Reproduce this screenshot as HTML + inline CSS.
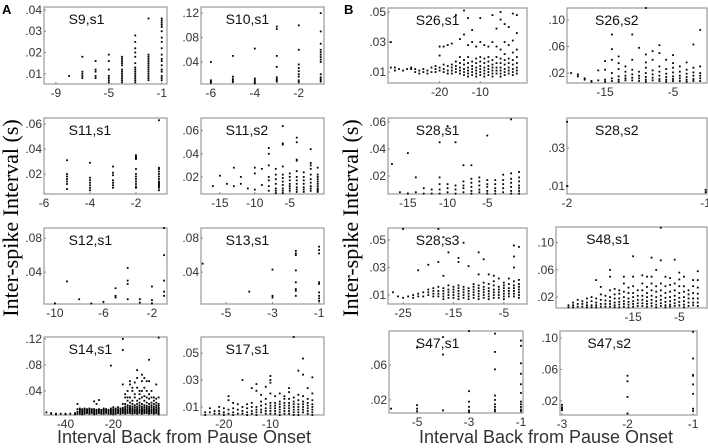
<!DOCTYPE html>
<html><head><meta charset="utf-8">
<style>
body{margin:0;background:#fff;width:708px;height:448px;overflow:hidden;font-family:"Liberation Sans",sans-serif}
svg{display:block}
</style></head>
<body>
<svg id="fig" width="708" height="448" viewBox="0 0 708 448" xmlns="http://www.w3.org/2000/svg">
<text x="2" y="14" font-size="13" font-weight="bold">A</text>
<text x="344" y="14" font-size="13" font-weight="bold">B</text>
<text transform="translate(18,218) rotate(-90)" text-anchor="middle" font-family="Liberation Serif,serif" font-size="22">Inter-spike Interval (s)</text>
<text transform="translate(358,218) rotate(-90)" text-anchor="middle" font-family="Liberation Serif,serif" font-size="22">Inter-spike Interval (s)</text>
<text x="184" y="443" text-anchor="middle" font-size="18" fill="#333">Interval Back from Pause Onset</text>
<text x="546" y="443" text-anchor="middle" font-size="18" fill="#333">Interval Back from Pause Onset</text>
</svg>
<script>
// ---- data: columns of [x, [isi values]] ----
const s9s1 = [[-8,[.009]],[-7,[.018,.011,.010,.009,.008]],[-6,[.016,.012,.011,.009,.008]],[-5,[.019,.016,.012,.009,.008,.007,.006]],[-4,[.018,.017,.016,.015,.014,.012,.011,.010,.009,.008,.007,.006]],[-3,[.028,.025,.022,.020,.018,.015,.013,.012,.011,.010,.009,.008,.007,.006]],[-2,[.036,.019,.018,.017,.016,.015,.014,.013,.012,.011,.010,.009,.008,.007]],[-1,[.036,.035,.034,.033,.032,.030,.027,.025,.022,.019,.017,.016,.014,.012,.011,.009,.008,.007]]];
const s10s1 = [[-6,[.04,.01,.008,.006]],[-5,[.05,.016,.012,.009,.007]],[-4,[.062,.013,.01,.007,.005]],[-3,[.098,.094,.05,.032,.015,.012,.01,.008]],[-2,[.1,.06,.036,.03,.025,.02,.016,.01,.007]],[-1,[.12,.09,.07,.06,.056,.052,.048,.044,.04,.02,.015,.012,.01,.008]]];
const s11s1 = [[-5,[.031,.020,.018,.016,.014,.012,.008]],[-4,[.029,.017,.015,.013,.011,.009,.007]],[-3,[.026,.021,.019,.015,.013,.011,.009]],[-2,[.035,.034,.033,.032,.024,.02,.018,.016,.014,.012,.01,.009]],[-1,[.063,.025,.024,.022,.02,.018,.016,.014,.013,.012,.011,.01,.009,.007]]];
const s11s2 = [[-16,[.012]],[-15,[.021]],[-14,[.014]],[-13,[.028,.012]],[-12,[.02,.014]],[-11,[.01]],[-10,[.028,.023,.009]],[-9,[.027,.013]],[-8,[.045,.04,.03,.02,.017,.012,.008]],[-7,[.027,.022,.018,.014,.01,.008,.006]],[-6,[.064,.049,.048,.029,.022,.019,.016,.013,.01,.008,.006]],[-5,[.023,.02,.017,.014,.012,.01,.008]],[-4,[.054,.05,.035,.034,.025,.02,.017,.014,.011,.009,.007]],[-3,[.024,.02,.017,.014,.011,.009,.007]],[-2,[.044,.032,.03,.027,.022,.018,.015,.012,.01,.008]],[-1,[.028,.022,.02,.018,.016,.014,.012,.01,.009,.008,.007]]];
const s12s1 = [[-10,[.003]],[-9,[.029]],[-8,[.008]],[-7,[.082,.003]],[-6,[.005]],[-5,[.021,.012,.01]],[-4,[.045,.03,.026,.008]],[-3,[.008,.004]],[-2,[.023,.007,.003]],[-1,[.092,.06,.03,.017,.012]]];
const s13s1 = [[-6,[.05]],[-4,[.017]],[-3,[.043,.012,.01]],[-2,[.065,.062,.06,.042,.028,.02,.018,.012]],[-1,[.07,.066,.062,.028,.026,.016,.012,.009,.006]]];
const s14s1 = [[-48,[.007]],[-46,[.006,.005]],[-44,[.005,.004]],[-42,[.005]],[-40,[.005,.004]],[-38,[.005]],[-36,[.006,.004]],[-35,[.02,.012,.008,.005]],[-34,[.013,.011,.009,.007,.005]],[-33,[.012,.01,.008,.006,.004]],[-32,[.013,.011,.009,.007,.005]],[-31,[.012,.01,.008,.006]],[-30,[.013,.011,.009,.007,.005]],[-29,[.012,.01,.008,.006]],[-28,[.024,.012,.01,.008,.006,.004]],[-27,[.02,.011,.009,.007,.005]],[-26,[.026,.012,.01,.008,.006]],[-25,[.011,.009,.007,.005]],[-24,[.013,.011,.009,.007,.005]],[-23,[.012,.01,.008,.006]],[-22,[.011,.009,.007,.005]],[-21,[.079,.013,.011,.009,.007,.005]],[-20,[.015,.012,.01,.008,.006,.004]],[-19,[.013,.011,.009,.007,.005]],[-18,[.015,.012,.01,.008,.006]],[-17,[.013,.011,.009,.007,.005]],[-16,[.12,.103,.05,.02,.014,.012,.01,.008,.006]],[-15,[.035,.03,.02,.016,.013,.011,.009,.007,.005]],[-14,[.04,.03,.025,.018,.015,.012,.01,.008,.006]],[-13,[.055,.05,.03,.022,.017,.014,.012,.01,.008,.006]],[-12,[.045,.04,.025,.02,.016,.013,.011,.009,.007,.005]],[-11,[.053,.035,.03,.018,.015,.012,.01,.008,.006]],[-10,[.072,.06,.045,.025,.02,.016,.013,.011,.009,.007,.005]],[-9,[.04,.035,.028,.022,.018,.015,.012,.01,.008,.006]],[-8,[.065,.055,.04,.03,.02,.016,.013,.011,.009,.007,.005]],[-7,[.06,.045,.032,.025,.018,.015,.012,.01,.008,.006]],[-6,[.055,.04,.03,.022,.017,.014,.012,.01,.008,.006]],[-5,[.088,.055,.035,.028,.02,.016,.013,.011,.009,.007,.005]],[-4,[.04,.03,.022,.018,.015,.012,.01,.008,.006]],[-3,[.03,.025,.02,.016,.013,.011,.009,.007,.005]],[-2,[.05,.028,.022,.018,.015,.012,.01,.008,.006]],[-1,[.122,.03,.02,.017,.014,.012,.01,.008,.006,.004]]];
const s17s1 = [[-24,[.006,.004]],[-23,[.009,.006]],[-22,[.007,.005]],[-21,[.01,.007,.005]],[-20,[.009,.006,.004]],[-19,[.018,.015,.008,.005]],[-18,[.013,.009,.006,.004]],[-17,[.012,.008,.005]],[-16,[.03,.01,.007,.005]],[-15,[.012,.009,.006,.004]],[-14,[.024,.013,.01,.007,.005]],[-13,[.027,.022,.01,.008,.006,.004]],[-12,[.019,.014,.011,.008,.006]],[-11,[.025,.016,.012,.009,.007,.005]],[-10,[.033,.03,.028,.02,.013,.011,.009,.007,.005]],[-9,[.018,.013,.011,.009,.007,.005]],[-8,[.02,.014,.012,.01,.008,.006,.004]],[-7,[.018,.016,.013,.011,.009,.007,.005]],[-6,[.024,.021,.016,.013,.011,.009,.007,.005]],[-5,[.062,.017,.014,.012,.01,.008,.006,.004]],[-4,[.037,.019,.015,.012,.01,.008,.006,.004]],[-3,[.046,.034,.018,.014,.012,.01,.008,.006]],[-2,[.024,.016,.013,.011,.009,.007,.005]],[-1,[.032,.02,.015,.012,.01,.008,.006,.004]]];
const s26s1 = [[-32,[.03,.013]],[-31,[.013,.011]],[-30,[.012]],[-29,[.011]],[-28,[.012]],[-27,[.013,.012]],[-26,[.012,.01]],[-25,[.011,.009]],[-24,[.012,.01]],[-23,[.011,.009]],[-22,[.013,.01]],[-21,[.014,.012,.01]],[-20,[.027,.021,.013,.011]],[-19,[.027,.015,.012,.01]],[-18,[.028,.014,.011,.009]],[-17,[.029,.015,.013,.011,.009]],[-16,[.048,.017,.014,.012,.01]],[-15,[.032,.02,.016,.013,.011,.009]],[-14,[.051,.035,.018,.015,.012,.01,.008]],[-13,[.046,.028,.02,.016,.013,.011,.009,.007]],[-12,[.038,.03,.017,.014,.012,.01,.008]],[-11,[.027,.019,.016,.013,.011,.009,.007]],[-10,[.046,.03,.02,.017,.014,.012,.01,.008]],[-9,[.028,.019,.016,.013,.011,.009,.007]],[-8,[.027,.02,.017,.014,.012,.01,.008]],[-7,[.048,.03,.018,.015,.013,.011,.009,.007]],[-6,[.039,.027,.02,.016,.013,.011,.009]],[-5,[.05,.045,.025,.019,.016,.013,.011,.009,.007]],[-4,[.042,.03,.022,.018,.015,.012,.01,.008]],[-3,[.04,.028,.019,.016,.013,.011,.009]],[-2,[.049,.031,.023,.018,.015,.012,.01,.008]],[-1,[.048,.036,.025,.02,.016,.013,.011,.009]]];
const s26s2 = [[-20,[.02]],[-19,[.018,.015]],[-18,[.012,.01]],[-17,[.008,.007]],[-16,[.024,.009]],[-15,[.038,.025,.01,.007]],[-14,[.078,.056,.04,.02,.012,.008]],[-13,[.045,.035,.026,.015,.01,.007]],[-12,[.03,.022,.016,.012,.009]],[-11,[.078,.04,.025,.018,.013,.009]],[-10,[.058,.022,.016,.012,.008]],[-9,[.118,.048,.036,.028,.02,.014,.01,.007]],[-8,[.053,.04,.024,.018,.013,.009]],[-7,[.062,.05,.03,.022,.016,.011,.008]],[-6,[.04,.026,.019,.014,.01,.007]],[-5,[.047,.035,.028,.021,.015,.011,.008]],[-4,[.03,.022,.016,.012,.008]],[-3,[.036,.025,.019,.014,.01,.007]],[-2,[.063,.028,.021,.016,.011,.008]],[-1,[.085,.03,.02,.016,.012,.008]]];
const s28s1 = [[-17,[.029]],[-16,[.008]],[-15,[.037,.007]],[-14,[.019,.008]],[-13,[.011,.007]],[-12,[.01,.007]],[-11,[.045,.019,.014,.01,.007]],[-10,[.057,.014,.011,.008]],[-9,[.045,.013,.01,.007]],[-8,[.028,.016,.013,.011,.008]],[-7,[.028,.018,.015,.012,.009,.007]],[-6,[.019,.016,.013,.01,.008]],[-5,[.05,.017,.014,.012,.009,.007]],[-4,[.017,.014,.011,.009,.007]],[-3,[.021,.017,.014,.011,.008]],[-2,[.062,.022,.018,.015,.012,.009,.007]],[-1,[.023,.019,.016,.013,.011,.009,.007]]];
const s28s2 = [[-2,[.044,.01]],[-1,[.008,.0068]]];
const s28s3 = [[-27,[.012]],[-26,[.009]],[-25,[.058,.008]],[-24,[.009]],[-23,[.01,.008]],[-22,[.028,.011,.009]],[-21,[.012,.009]],[-20,[.032,.014,.012,.01]],[-19,[.015,.013,.011,.009]],[-18,[.058,.034,.016,.013,.011,.009]],[-17,[.052,.024,.015,.013,.011,.009,.007]],[-16,[.041,.017,.014,.012,.01,.008]],[-15,[.016,.014,.012,.01,.008]],[-14,[.037,.034,.017,.015,.013,.011,.009,.007]],[-13,[.048,.016,.014,.012,.01,.008]],[-12,[.031,.015,.013,.011,.009,.007]],[-11,[.018,.016,.014,.012,.01,.008]],[-10,[.041,.025,.017,.015,.013,.011,.009,.007]],[-9,[.036,.019,.016,.014,.012,.01,.008]],[-8,[.025,.018,.015,.013,.011,.009,.007]],[-7,[.024,.02,.017,.014,.012,.01,.008]],[-6,[.022,.016,.014,.012,.01,.008]],[-5,[.019,.017,.015,.013,.011,.009,.007]],[-4,[.022,.018,.015,.013,.011,.009]],[-3,[.046,.038,.03,.02,.017,.015,.013,.011,.009]],[-2,[.045,.021,.018,.016,.014,.012,.01,.008]]];
const s48s1 = [[-29,[.008,.005]],[-28,[.012,.008,.005]],[-27,[.016,.01,.006]],[-26,[.014,.01,.006]],[-25,[.018,.012,.008,.005]],[-24,[.02,.014,.008,.005]],[-23,[.045,.018,.012,.008,.005]],[-22,[.035,.024,.016,.01,.006]],[-21,[.022,.015,.01,.006]],[-20,[.06,.05,.03,.02,.014,.01,.006]],[-19,[.032,.024,.018,.012,.008,.005]],[-18,[.03,.025,.018,.013,.009,.005]],[-17,[.05,.04,.028,.02,.014,.01,.006]],[-16,[.034,.026,.018,.013,.009,.005]],[-15,[.08,.05,.036,.026,.02,.014,.01,.006]],[-14,[.03,.022,.016,.011,.007]],[-13,[.052,.04,.03,.022,.016,.011,.007]],[-12,[.05,.035,.026,.02,.014,.01,.006]],[-11,[.078,.05,.04,.03,.022,.016,.011,.007]],[-10,[.06,.036,.028,.02,.014,.009,.005]],[-9,[.122,.074,.04,.03,.022,.016,.011,.007]],[-8,[.05,.036,.026,.019,.013,.008,.005]],[-7,[.048,.038,.028,.02,.014,.009,.006]],[-6,[.075,.04,.03,.022,.016,.011,.007]],[-5,[.056,.046,.036,.026,.019,.013,.008]],[-4,[.05,.036,.028,.02,.014,.009,.005]],[-3,[.03,.024,.018,.012,.007]],[-2,[.045,.036,.026,.018,.012,.008]],[-1,[.058,.045,.034,.025,.018,.012,.007]]];
const s47s1 = [[-6,[.01]],[-5,[.08,.014,.01,.007]],[-4,[.092,.072,.008]],[-3,[.099,.03,.018,.012,.008,.006]],[-2,[.096,.075,.055,.025,.02,.015,.012,.009,.007]],[-1,[.088,.082,.062,.05,.038,.028,.018,.015,.012,.009,.007]]];
const s47s2 = [[-3,[.015,.012,.01,.008]],[-2,[.052,.045,.025,.004]],[-1,[.108,.074,.053,.052,.041,.029,.01,.007]]];

// ---- tick labels ----
const xt_s9=[-9,-5,-1], yt_s9=[".01",".02",".03",".04"];
const xt_s10=[-6,-4,-2], yt_s10=[".04",".08",".12"];
const xt_s11a=[-6,-4,-2], yt_s11a=[".02",".04",".06"];
const xt_s11b=[-15,-10,-5], yt_s11b=[".02",".04",".06"];
const xt_s12=[-10,-6,-2], yt_s12=[".04",".08"];
const xt_s13=[-5,-3,-1], yt_s13=[".04",".08"];
const xt_s14=[-40,-20], yt_s14=[".04",".08",".12"];
const xt_s17=[-20,-10], yt_s17=[".01",".03",".05"];
const xt_s26a=[-20,-10], yt_s26a=[".01",".03",".05"];
const xt_s26b=[-15,-5], yt_s26b=[".02",".06",".10"];
const xt_s28a=[-15,-10,-5], yt_s28a=[".02",".04",".06"];
const xt_s28b=[-2,-1], yt_s28b=[".01",".03"];
const xt_s28c=[-25,-15,-5], yt_s28c=[".01",".03",".05"];
const xt_s48=[-15,-5], yt_s48=[".02",".06",".10"];
const xt_s47a=[-5,-3,-1], yt_s47a=[".02",".06"];
const xt_s47b=[-3,-2,-1], yt_s47b=[".02",".06",".10"];

// ---- layout (box px, domain) ----
const panels = [
 {id:"s9-s1",t:"S9,s1",b:[44,7,167,84],d:[-9.9,-0.6,.0052,.0414],data:s9s1,xt:xt_s9,yt:yt_s9},
 {id:"s10-s1",t:"S10,s1",b:[201,7,324,84],d:[-6.45,-0.85,.004,.13],data:s10s1,xt:xt_s10,yt:yt_s10},
 {id:"s11-s1",t:"S11,s1",b:[44,118,167,194],d:[-6,-0.65,.004,.0648],data:s11s1,xt:xt_s11a,yt:yt_s11a},
 {id:"s11-s2",t:"S11,s2",b:[201,118,324,194],d:[-17.7,-0.1,.0052,.071],data:s11s2,xt:xt_s11b,yt:yt_s11b},
 {id:"s12-s1",t:"S12,s1",b:[44,228,167,304],d:[-10.9,-0.76,.0024,.092],data:s12s1,xt:xt_s12,yt:yt_s12},
 {id:"s13-s1",t:"S13,s1",b:[201,228,324,304],d:[-6.07,-0.79,.0024,.092],data:s13s1,xt:xt_s13,yt:yt_s13},
 {id:"s14-s1",t:"S14,s1",b:[44,337,167,415],d:[-49,2.5,.003,.123],data:s14s1,xt:xt_s14,yt:yt_s14},
 {id:"s17-s1",t:"S17,s1",b:[201,337,324,415],d:[-24.9,1.5,.004,.062],data:s17s1,xt:xt_s17,yt:yt_s17},
 {id:"s26-s1",t:"S26,s1",b:[388,8,527,83],d:[-32.7,1.5,.0027,.0527],data:s26s1,xt:xt_s26a,yt:yt_s26a},
 {id:"s26-s2",t:"S26,s2",b:[567,8,707,83],d:[-20.6,0,.005,.118],data:s26s2,xt:xt_s26b,yt:yt_s26b},
 {id:"s28-s1",t:"S28,s1",b:[388,118,527,194],d:[-17.5,0,.0067,.063],data:s28s1,xt:xt_s28a,yt:yt_s28a},
 {id:"s28-s2",t:"S28,s2",b:[567,118,707,194],d:[-2,-0.99,.0058,.046],data:s28s2,xt:xt_s28b,yt:yt_s28b},
 {id:"s28-s3",t:"S28,s3",b:[388,228,527,304],d:[-28,-0.4,.0035,.0587],data:s28s3,xt:xt_s28c,yt:yt_s28c},
 {id:"s48-s1",t:"S48,s1",b:[556,227,707,308],d:[-31.7,1,.004,.123],data:s48s1,xt:xt_s48,yt:yt_s48},
 {id:"s47-s1",t:"S47,s1",b:[389,331,523,413],d:[-6.08,-0.92,.005,.099],data:s47s1,xt:xt_s47a,yt:yt_s47a},
 {id:"s47-s2",t:"S47,s2",b:[560,331,697,415],d:[-3.03,-0.94,.002,.109],data:s47s2,xt:xt_s47b,yt:yt_s47b}
];
const NS="http://www.w3.org/2000/svg";
const svg=document.getElementById("fig");
function mk(tag,attrs,parent){const e=document.createElementNS(NS,tag);for(const k in attrs)e.setAttribute(k,attrs[k]);parent.appendChild(e);return e;}
panels.forEach(p=>{
 const [x0,y0,x1,y1]=p.b,[a,bx,c,dd]=p.d;
 const sx=v=>x0+(v-a)/(bx-a)*(x1-x0);
 const sy=v=>y1-(v-c)/(dd-c)*(y1-y0);
 const g=mk("g",{},svg);
 
 
 const r=mk("rect",{x:x0,y:y0,width:x1-x0,height:y1-y0,fill:"none",stroke:"#9a9a9a","stroke-width":1.2},g);
 
 
 const tl=mk("text",{x:x0+(x1-x0)*0.2,y:y0+17,"font-size":14,fill:"#111"},g);
 tl.textContent=p.t;
 
 
 p.xt.forEach(v=>{
  const X=sx(v);
  mk("line",{x1:X,x2:X,y1:y1,y2:y1-2,stroke:"#888"},g);
  const t=mk("text",{x:X,y:y1+13,"font-size":12,"text-anchor":"middle",fill:"#333"},g);
  t.textContent=String(v);
  
  
 });
 p.yt.forEach(s=>{
  const Y=sy(parseFloat(s));
  mk("line",{x1:x0,x2:x0+2,y1:Y,y2:Y,stroke:"#888"},g);
  const t=mk("text",{x:x0-2,y:Y+4,"font-size":12,"text-anchor":"end",fill:"#333"},g);
  t.textContent=s;
  
  
 });
 p.data.forEach(col=>{
  col[1].forEach(v=>{
   const cx=sx(col[0]),cy=Math.max(y0,Math.min(y1,sy(v)));
   const dot=mk("rect",{x:cx-0.9,y:cy-0.9,width:1.8,height:1.8,fill:"#000"},g);
   
   
  });
 });
});
</script>
</body></html>
